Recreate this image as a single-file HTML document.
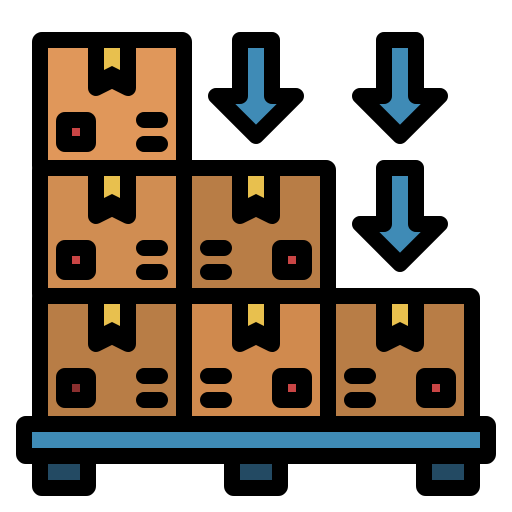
<!DOCTYPE html>
<html><head><style>html,body{margin:0;padding:0;background:#fff}svg{display:block}</style></head>
<body>
<svg width="512" height="512" viewBox="0 0 512 512" stroke-linejoin="round" stroke-linecap="round">
  <g fill="#234a63" stroke="#000" stroke-width="16">
    <rect x="40" y="456" width="48" height="32" rx="2"/>
    <rect x="232" y="456" width="48" height="32" rx="2"/>
    <rect x="424" y="456" width="48" height="32" rx="2"/>
  </g>
  <rect x="24" y="424" width="464" height="32" rx="2" fill="#3f8bb6" stroke="#000" stroke-width="16"/>
  <g id="boxes"></g>
  <g fill="#3f8bb6" stroke="#000" stroke-width="16">
    <path d="M240,40 H272 V96 H296 L256,136 L216,96 H240 Z"/>
    <path d="M384,40 H416 V96 H440 L400,136 L360,96 H384 Z"/>
    <path d="M384,168 H416 V224 H440 L400,264 L360,224 H384 Z"/>
  </g>
</svg>
<script>
const boxes=[[0,0,'#e0975a',0,'#c94545'],[0,1,'#d08d52',0,'#c94545'],[1,1,'#b87d46',1,'#c94545'],[0,2,'#b87d46',0,'#8b2f2f'],[1,2,'#d08a4e',1,'#c94545'],[2,2,'#b87d46',1,'#c94545']];
const g=document.getElementById('boxes');
const NS='http://www.w3.org/2000/svg';
function el(t,a){const e=document.createElementNS(NS,t);for(const k in a)e.setAttribute(k,a[k]);return e;}
boxes.forEach(([c,r,col,mir,dot])=>{
  const x=40+144*c,y=40+128*r;
  const b=el('g',{});
  
  
  b.appendChild(el('rect',{x:x,y:y,width:144,height:128,rx:2,fill:col,stroke:'#000','stroke-width':16}));
  const ix=x+8,iy=y+8;
  b.appendChild(el('path',{d:`M${ix+48},${iy} V${iy+40} L${ix+64},${iy+32} L${ix+80},${iy+40} V${iy}`,fill:'#000',stroke:'#000','stroke-width':16}));
  b.appendChild(el('path',{d:`M${ix+56},${iy} H${ix+72} V${iy+22} L${ix+64},${iy+18} L${ix+56},${iy+22} Z`,fill:'#e8c04e'}));
  const sqx=mir?ix+80:ix+8, brx=mir?ix+8:ix+88;
  b.appendChild(el('rect',{x:sqx,y:iy+64,width:40,height:40,rx:9,fill:'#000'}));
  b.appendChild(el('rect',{x:sqx+16,y:iy+80,width:8,height:8,fill:dot}));
  b.appendChild(el('rect',{x:brx,y:iy+64,width:32,height:16,rx:8,fill:'#000'}));
  b.appendChild(el('rect',{x:brx,y:iy+88,width:32,height:16,rx:8,fill:'#000'}));
  g.appendChild(b);
});
</script>
</body></html>
